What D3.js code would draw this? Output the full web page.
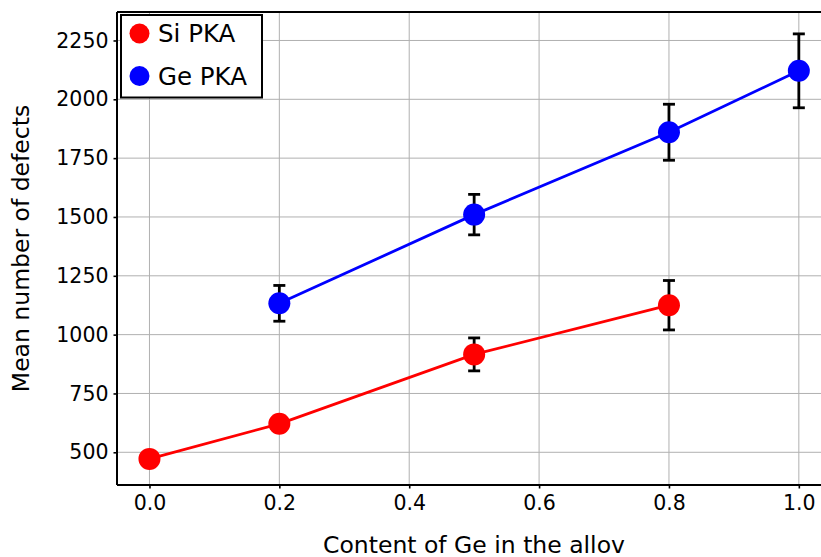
<!DOCTYPE html>
<html>
<head>
<meta charset="utf-8">
<script src="https://cdn.jsdelivr.net/npm/d3@7"></script>
<style>
  html, body { margin: 0; padding: 0; background: #fff; overflow: hidden; }
  svg { display: block; font-family: "DejaVu Sans", sans-serif; }
</style>
</head>
<body>
<svg id="chart" width="821" height="557"></svg>
<script>
// ---- data ----
const siX = [0.0, 0.2, 0.5, 0.8];
const siY = [472, 621, 916, 1125];
const siErr = [15, 22, 70, 105];

const geX = [0.2, 0.5, 0.8, 1.0];
const geY = [1133, 1510, 1860, 2121];
const geErr = [76, 86, 119, 157];

const xTicks = [0.0, 0.2, 0.4, 0.6, 0.8, 1.0];
const yTicks = [500, 750, 1000, 1250, 1500, 1750, 2000, 2250];
const seriesNames = ["Si PKA", "Ge PKA"];
const seriesColors = ["#ff0000", "#0000ff"];

// ---- layout ----
const svg = d3.select("#chart");
const plotLeft = 117, plotTop = 12, plotBottom = 485;
const x = d3.scaleLinear().domain([-0.05, 1.05]).range([plotLeft, plotLeft + 714.3]);
const y = d3.scaleLinear().domain([361, 2371]).range([plotBottom, plotTop]);

const series = [
  { name: seriesNames[0], color: seriesColors[0], pts: siX.map((v, i) => ({ x: v, y: siY[i], e: siErr[i] })) },
  { name: seriesNames[1], color: seriesColors[1], pts: geX.map((v, i) => ({ x: v, y: geY[i], e: geErr[i] })) }
];

// grid
svg.append("g").selectAll("line").data(xTicks).join("line")
  .attr("x1", d => x(d)).attr("x2", d => x(d)).attr("y1", plotTop).attr("y2", plotBottom)
  .attr("stroke", "#b0b0b0").attr("stroke-width", 1);
svg.append("g").selectAll("line").data(yTicks).join("line")
  .attr("x1", plotLeft).attr("x2", 821).attr("y1", d => y(d)).attr("y2", d => y(d))
  .attr("stroke", "#b0b0b0").attr("stroke-width", 1);

// axes
const xAxis = svg.append("g").attr("transform", `translate(0,${plotBottom})`)
  .call(d3.axisBottom(x).tickValues(xTicks).tickFormat(d3.format(".1f")).tickSize(3.5).tickPadding(7));
const yAxis = svg.append("g").attr("transform", `translate(${plotLeft},0)`)
  .call(d3.axisLeft(y).tickValues(yTicks).tickFormat(d3.format("d")).tickSize(3.5).tickPadding(5));
[xAxis, yAxis].forEach(g => {
  g.select(".domain").remove();
  g.selectAll(".tick line").attr("stroke", "#000").attr("stroke-width", 1.6);
  g.selectAll(".tick text").attr("fill", "#000").style("font-size", "20.5px").style("font-family", "DejaVu Sans");
});

// spines
svg.append("line").attr("x1", plotLeft).attr("x2", plotLeft).attr("y1", plotTop).attr("y2", plotBottom)
  .attr("stroke", "#000").attr("stroke-width", 2);
svg.append("line").attr("x1", plotLeft).attr("x2", 821).attr("y1", plotBottom).attr("y2", plotBottom)
  .attr("stroke", "#000").attr("stroke-width", 2);
svg.append("line").attr("x1", plotLeft).attr("x2", 821).attr("y1", plotTop).attr("y2", plotTop)
  .attr("stroke", "#000").attr("stroke-width", 2);

// lines
const line = d3.line().x(d => x(d.x)).y(d => y(d.y));
series.forEach(s => {
  svg.append("path").datum(s.pts).attr("d", line)
    .attr("fill", "none").attr("stroke", s.color).attr("stroke-width", 2.8);
});

// error bars
series.forEach(s => {
  const g = svg.append("g").attr("stroke", "#000").attr("stroke-width", 2.8);
  g.selectAll("line.v").data(s.pts).join("line").attr("class", "v")
    .attr("x1", d => x(d.x)).attr("x2", d => x(d.x))
    .attr("y1", d => y(d.y - d.e)).attr("y2", d => y(d.y + d.e));
  g.selectAll("line.t").data(s.pts).join("line").attr("class", "t")
    .attr("x1", d => x(d.x) - 6).attr("x2", d => x(d.x) + 6)
    .attr("y1", d => y(d.y + d.e)).attr("y2", d => y(d.y + d.e));
  g.selectAll("line.b").data(s.pts).join("line").attr("class", "b")
    .attr("x1", d => x(d.x) - 6).attr("x2", d => x(d.x) + 6)
    .attr("y1", d => y(d.y - d.e)).attr("y2", d => y(d.y - d.e));
});

// markers
series.forEach(s => {
  svg.append("g").selectAll("circle").data(s.pts).join("circle")
    .attr("cx", d => x(d.x)).attr("cy", d => y(d.y)).attr("r", 11)
    .attr("fill", s.color);
});

// legend
const lg = svg.append("g");
lg.append("rect").attr("x", 121).attr("y", 15).attr("width", 141).attr("height", 82.5)
  .attr("fill", "#fff").attr("stroke", "#000").attr("stroke-width", 2);
series.forEach((s, i) => {
  const cy = 33.5 + i * 42.5;
  lg.append("circle").attr("cx", 139.5).attr("cy", cy).attr("r", 10).attr("fill", s.color);
  lg.append("text").attr("x", 158).attr("y", cy + 8.5).text(s.name)
    .style("font-size", "24.5px").attr("fill", "#000");
});

// axis labels
svg.append("text").attr("x", 474).attr("y", 553).attr("text-anchor", "middle")
  .style("font-size", "23.5px").attr("fill", "#000").text("Content of Ge in the allov");
svg.append("text").attr("transform", "translate(29,248.5) rotate(-90)").attr("text-anchor", "middle")
  .style("font-size", "23.5px").attr("fill", "#000").text("Mean number of defects");
</script>
</body>
</html>
